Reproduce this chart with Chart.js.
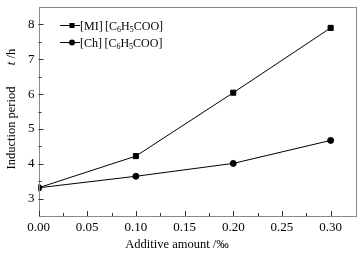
<!DOCTYPE html>
<html>
<head>
<meta charset="utf-8">
<script src="https://cdn.jsdelivr.net/npm/chart.js@4"></script>
<style>
  html, body { margin: 0; padding: 0; background: #fff; }
  #wrap { width: 363px; height: 253px; }
</style>
</head>
<body>
<div id="wrap"><canvas id="chart"></canvas></div>
<script>
// Values
const additive = [0, 0.10, 0.20, 0.30];
const miValues = [3.31, 4.22, 6.04, 7.90];
const chValues = [3.31, 3.64, 4.01, 4.67];

const xTicks = [0, 0.05, 0.10, 0.15, 0.20, 0.25, 0.30];
const xMinor = [0.025, 0.075, 0.125, 0.175, 0.225, 0.275];
const yTicks = [3, 4, 5, 6, 7, 8];
const yMinor = [3.5, 4.5, 5.5, 6.5, 7.5];

const serif = '"Liberation Serif", "Times New Roman", serif';

function pts(ys) {
  return additive.map(function (x, i) { return { x: x, y: ys[i] }; });
}

// Frame, inward ticks, axis titles and the legend
const decor = {
  id: 'decor',
  afterDraw: function (chart) {
    const ctx = chart.ctx;
    const a = chart.chartArea;
    const xs = chart.scales.x;
    const ys = chart.scales.y;
    ctx.save();

    ctx.strokeStyle = '#8a8a8a';
    ctx.lineWidth = 1;
    ctx.strokeRect(Math.round(a.left) + 0.5, Math.round(a.top) + 0.5,
      Math.round(a.right - a.left), Math.round(a.bottom - a.top));

    ctx.strokeStyle = '#333';
    ctx.beginPath();
    xTicks.forEach(function (v) {
      const px = Math.round(xs.getPixelForValue(v)) + 0.5;
      ctx.moveTo(px, a.bottom); ctx.lineTo(px, a.bottom - 5);
    });
    xMinor.forEach(function (v) {
      const px = Math.round(xs.getPixelForValue(v)) + 0.5;
      ctx.moveTo(px, a.bottom); ctx.lineTo(px, a.bottom - 3);
    });
    yTicks.forEach(function (v) {
      const py = Math.round(ys.getPixelForValue(v)) + 0.5;
      ctx.moveTo(a.left, py); ctx.lineTo(a.left + 5, py);
    });
    yMinor.forEach(function (v) {
      const py = Math.round(ys.getPixelForValue(v)) + 0.5;
      ctx.moveTo(a.left, py); ctx.lineTo(a.left + 3, py);
    });
    ctx.stroke();

    // x title
    ctx.fillStyle = '#000';
    ctx.font = '12.5px ' + serif;
    ctx.textAlign = 'center';
    ctx.textBaseline = 'middle';
    ctx.fillText('Additive amount /\u2030', 177, 245);

    // y title (rotated)
    ctx.save();
    ctx.translate(12, 0);
    ctx.rotate(-Math.PI / 2);
    ctx.fillText('Induction period', -128, 0);
    ctx.font = 'italic 12.5px ' + serif;
    const tw = ctx.measureText('t').width;
    ctx.font = '12.5px ' + serif;
    const hw = ctx.measureText(' /h').width;
    const start = -57 - (tw + hw) / 2;
    ctx.textAlign = 'left';
    ctx.font = 'italic 12.5px ' + serif;
    ctx.fillText('t', start, 0);
    ctx.font = '12.5px ' + serif;
    ctx.fillText(' /h', start + tw, 0);
    ctx.restore();

    // legend
    drawLegendRow(ctx, 25, 'rect', '[MI]');
    drawLegendRow(ctx, 42, 'circle', '[Ch]');
    ctx.restore();
  }
};

function drawLegendRow(ctx, y, style, cation) {
  ctx.strokeStyle = '#000';
  ctx.lineWidth = 1;
  ctx.beginPath();
  ctx.moveTo(60, y + 0.5); ctx.lineTo(80, y + 0.5);
  ctx.stroke();
  ctx.fillStyle = '#000';
  if (style === 'rect') {
    ctx.fillRect(69.5, y - 2, 5, 5);
  } else {
    ctx.beginPath(); ctx.arc(72, y + 0.5, 3, 0, Math.PI * 2); ctx.fill();
  }
  const parts = [
    [cation, false], ['\u2009[C', false], ['6', true], ['H', false], ['5', true], ['COO]', false]
  ];
  let x = 80;
  ctx.textAlign = 'left';
  ctx.textBaseline = 'alphabetic';
  parts.forEach(function (p) {
    ctx.font = (p[1] ? '8px ' : '12px ') + serif;
    ctx.fillText(p[0], x, y + (p[1] ? 6.5 : 4.5));
    x += ctx.measureText(p[0]).width;
  });
}

new Chart(document.getElementById('chart'), {
  type: 'line',
  data: {
    datasets: [
      {
        label: '[MI][C6H5COO]',
        data: pts(miValues),
        borderColor: '#000',
        backgroundColor: '#000',
        borderWidth: 1,
        pointStyle: 'rect',
        pointRadius: 3.6,
        tension: 0,
      },
      {
        label: '[Ch][C6H5COO]',
        data: pts(chValues),
        borderColor: '#000',
        backgroundColor: '#000',
        borderWidth: 1,
        pointStyle: 'circle',
        pointRadius: 3,
        tension: 0,
      },
    ],
  },
  options: {
    responsive: true,
    maintainAspectRatio: false,
    animation: false,
    layout: { padding: { top: 7, right: 8, left: 0, bottom: 0 } },
    plugins: {
      legend: { display: false },
      tooltip: { enabled: false },
    },
    scales: {
      x: {
        type: 'linear',
        min: 0,
        max: 0.325,
        grid: { display: false, drawTicks: false },
        border: { display: false },
        afterBuildTicks: function (s) { s.ticks = xTicks.map(function (v) { return { value: v }; }); },
        afterFit: function (s) { s.height = 37; s.paddingLeft = 0; s.paddingRight = 0; },
        ticks: {
          padding: 4,
          color: '#000',
          font: { family: serif, size: 13 },
          maxRotation: 0,
          callback: function (v) { return Number(v).toFixed(2); },
        },
      },
      y: {
        min: 2.5,
        max: 8.5,
        grid: { display: false, drawTicks: false },
        border: { display: false },
        afterBuildTicks: function (s) { s.ticks = yTicks.map(function (v) { return { value: v }; }); },
        afterFit: function (s) { s.width = 38.5; s.paddingTop = 0; s.paddingBottom = 0; },
        ticks: {
          padding: 4,
          color: '#000',
          font: { family: serif, size: 13 },
        },
      },
    },
  },
  plugins: [decor],
});
</script>
</body>
</html>
